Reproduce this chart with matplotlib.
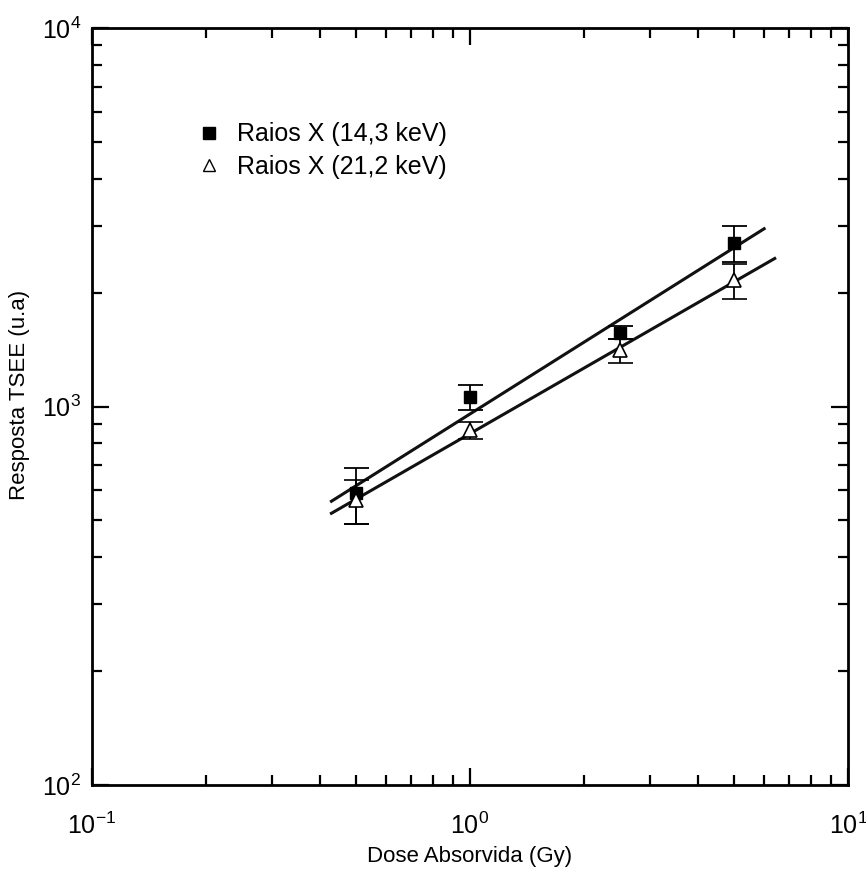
import numpy as np
import matplotlib
matplotlib.use("Agg")
import matplotlib.pyplot as plt
from matplotlib.lines import Line2D

plt.rcParams['font.family'] = ['Liberation Sans', 'DejaVu Sans']
plt.rcParams['mathtext.fontset'] = 'custom'
plt.rcParams['mathtext.rm'] = 'Liberation Sans'
plt.rcParams['mathtext.it'] = 'Liberation Sans'

dose = [0.5, 1.0, 2.5, 5.0]
resp_14 = [590, 1057, 1567, 2700]
err_14 = [100, 80, 60, 290]
resp_21 = [565, 865, 1406, 2153]
err_21 = [75, 45, 100, 230]
labels = ["Raios X (14,3 keV)", "Raios X (21,2 keV)"]
fit_range_14 = [0.43, 6.0]
fit_range_21 = [0.43, 6.4]

fig = plt.figure(figsize=(8.66, 8.94), dpi=100)
ax = fig.add_axes([0.1062, 0.1219, 0.8730, 0.8468])
ax.set_xscale('log')
ax.set_yscale('log')
ax.set_xlim(0.1, 10)
ax.set_ylim(100, 10000)

def fit_line(x, y, rng):
    p = np.polyfit(np.log10(x), np.log10(y), 1)
    xx = np.logspace(np.log10(rng[0]), np.log10(rng[1]), 50)
    return xx, 10 ** np.polyval(p, np.log10(xx))

for y, rng in ((resp_14, fit_range_14), (resp_21, fit_range_21)):
    xx, yy = fit_line(dose, y, rng)
    ax.plot(xx, yy, color='#111111', lw=2.2, zorder=2)

ax.errorbar(dose, resp_14, yerr=err_14, fmt='s', color='black', ms=9,
            mfc='black', mec='black', ecolor='black', elinewidth=1.3,
            capsize=9, capthick=1.3, zorder=3)
ax.errorbar(dose, resp_21, yerr=err_21, fmt='^', color='black', ms=10,
            mfc='white', mec='black', mew=1.2, ecolor='black', elinewidth=1.3,
            capsize=9, capthick=1.3, zorder=3)

handles = [Line2D([], [], ls='none', marker='s', ms=9, mfc='black', mec='black'),
           Line2D([], [], ls='none', marker='^', ms=8, mfc='white', mec='black', mew=1.0)]
ax.legend(handles, labels, loc='upper left', bbox_to_anchor=(0.112, 0.905),
          frameon=False, fontsize=18, handlelength=0.8, handletextpad=0.7,
          labelspacing=0.35)

for s in ax.spines.values():
    s.set_linewidth(2.0)
ax.tick_params(which='both', direction='in', top=True, right=True, width=1.6)
ax.tick_params(which='major', length=12, labelsize=18)
ax.tick_params(axis='x', which='major', pad=20)
ax.tick_params(which='minor', length=7)
ax.tick_params(axis='y', which='major', pad=8)

ax.set_xticks([0.1, 1, 10])
ax.set_xticklabels([r'$10^{-1}$', r'$10^{0}$', r'$10^{1}$'])
ax.set_yticks([100, 1000, 10000])
ax.set_yticklabels([r'$10^{2}$', r'$10^{3}$', r'$10^{4}$'])

ax.set_xlabel('Dose Absorvida (Gy)', fontsize=16, labelpad=5)
ax.set_ylabel('Resposta TSEE (u.a)', fontsize=16, labelpad=10)
ax.yaxis.set_label_coords(-0.082, 0.515)

fig.savefig('out.png', dpi=100)
